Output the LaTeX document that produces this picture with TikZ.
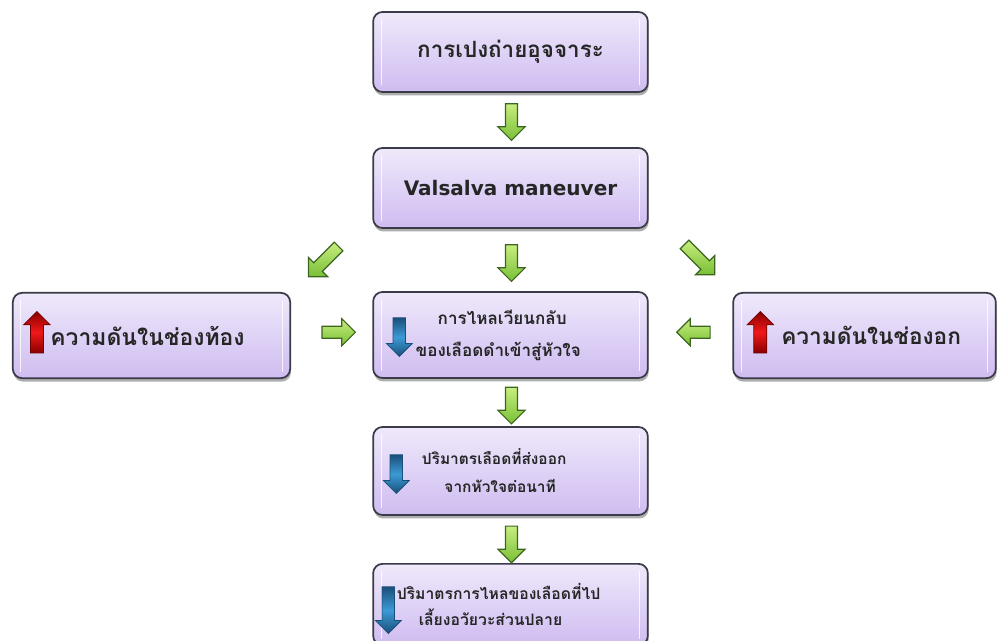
\documentclass[tikz,border=0pt]{standalone}
\usepackage{fontspec}
\newfontfamily\thai[Script=Thai]{Loma}
\newfontfamily\latn{DejaVu Sans}
\usetikzlibrary{shapes.arrows,shadows,calc}
\definecolor{boxtop}{HTML}{EFE9FB}
\definecolor{boxbot}{HTML}{CFBCF1}
\definecolor{boxline}{HTML}{3A3A48}
\definecolor{gtop}{HTML}{C8EE80}
\definecolor{gbot}{HTML}{79BF36}
\definecolor{gline}{HTML}{3C6620}
\definecolor{rmid}{HTML}{F01818}
\definecolor{redge}{HTML}{8A0000}
\definecolor{bmid}{HTML}{3C9AD6}
\definecolor{bedge}{HTML}{1A4F7A}
\begin{document}
\begin{tikzpicture}[x=0.75pt,y=-0.75pt,
  box/.style={draw=boxline, line width=1.3pt, rounded corners=7pt,
    top color=boxtop, bottom color=boxbot, align=center, inner sep=2pt,
    font=\thai\bfseries\fontsize{12.5}{17}\selectfont, text=black!85,
    drop shadow={shadow xshift=0.6pt, shadow yshift=-2.6pt, fill=black!70, opacity=0.45},
    path picture={
      \draw[white, opacity=0.8, line width=0.8pt]
        ([xshift=6pt,yshift=-5pt]path picture bounding box.north west) --
        ([xshift=6pt,yshift=5pt]path picture bounding box.south west)
        ([xshift=-6pt,yshift=-5pt]path picture bounding box.north east) --
        ([xshift=-6pt,yshift=5pt]path picture bounding box.south east);}},
  garrow/.style={single arrow, draw=gline, line width=0.9pt,
    top color=gtop, bottom color=gbot, minimum height=27.5pt,
    inner xsep=0pt, inner ysep=4.1pt, single arrow head extend=5.6pt},
  uparrow/.style={single arrow, draw=redge!80!black, line width=0.6pt, rotate=90,
    top color=redge, bottom color=redge, middle color=rmid,
    minimum height=31pt, inner xsep=0pt, inner ysep=4.6pt, single arrow head extend=5pt},
  downarrow/.style={single arrow, draw=bedge, line width=0.6pt, rotate=-90,
    top color=bedge, bottom color=bedge, middle color=bmid,
    minimum height=29pt, inner xsep=0pt, inner ysep=4.4pt, single arrow head extend=5pt}
]
\useasboundingbox (0,0) rectangle (1004,640);
\clip (0,0) rectangle (1004,640);
\fill[white] (0,0) rectangle (1004,640);

% boxes
\node[box, minimum width=206pt, minimum height=60pt, font=\thai\bfseries\fontsize{16.8}{20}\selectfont] (b1) at (510.5,52) {การเปงถ่ายอุจจาระ};
\node[box, minimum width=206pt, minimum height=60pt, font=\latn\bfseries\fontsize{15}{18}\selectfont] (b2) at (510.5,188) {Valsalva maneuver};
\node[box, minimum width=206pt, minimum height=64.5pt, font=\thai\bfseries\fontsize{12.8}{24}\selectfont] (b4) at (510.5,335) {\hspace*{-12.5pt}การไหลเวียนกลับ\\\hspace*{-18.5pt}ของเลือดดำเข้าสู่หัวใจ};
\node[box, minimum width=208pt, minimum height=64pt, font=\thai\bfseries\fontsize{17.2}{20}\selectfont] (b3) at (151.5,335.5) {\hspace*{-6pt}ความดันในช่องท้อง};
\node[box, minimum width=197pt, minimum height=64pt, font=\thai\bfseries\fontsize{17}{20}\selectfont] (b5) at (864.5,335.5) {\hspace*{10pt}ความดันในช่องอก};
\node[box, minimum width=206pt, minimum height=66pt, font=\thai\bfseries\fontsize{11.6}{21}\selectfont] (b6) at (510.5,471) {\hspace*{-24.5pt}ปริมาตรเลือดที่ส่งออก\\\hspace*{-15.5pt}จากหัวใจต่อนาที};
\node[box, minimum width=206pt, minimum height=61pt, anchor=north, font=\thai\bfseries\fontsize{11.8}{20}\selectfont] (b7) at (510.5,563) {\hspace*{-18pt}ปริมาตรการไหลของเลือดที่ไป\\\hspace*{-30pt}เลี้ยงอวัยวะส่วนปลาย};

% green block arrows between boxes
\node[garrow, rotate=-90] (g1) at ($(b1.south)!0.5!(b2.north)+(1,-1)$) {};
\node[garrow, rotate=-90] (g2) at ($(b2.south)!0.5!(b4.north)+(1,0)$) {};
\node[garrow, rotate=-90] (g7) at ($(b4.south)!0.5!(b6.north)+(1,0)$) {};
\node[garrow, rotate=-90] (g8) at ($(b6.south)!0.5!(b7.north)+(1,2)$) {};
\node[garrow, rotate=-135, minimum height=32pt] (g3) at ($(b2.south west)!0.5!(b3.north east)+(-6,-1)$) {};
\node[garrow, rotate=-45, minimum height=32pt] (g4) at ($(b2.south east)!0.5!(b5.north west)+(7,-3)$) {};
\node[garrow, minimum height=25pt] (g5) at ($(b3.east)!0.5!(b4.west)+(4,-3)$) {};
\node[garrow, rotate=180, minimum height=25pt] (g6) at ($(b4.east)!0.5!(b5.west)+(6,-3)$) {};

% up / down indicators
\node[uparrow] (r3) at ($(b3.west)+(25,0)$) {};
\node[uparrow] (r5) at ($(b5.west)+(28,0)$) {};
\node[downarrow] (d4) at ($(b4.west)+(27,-1)$) {};
\node[downarrow] (d6) at ($(b6.west)+(24,0)$) {};
\node[downarrow, minimum height=35pt] (d7) at ($(b7.north west)+(16,44)$) {};
\end{tikzpicture}
\end{document}
